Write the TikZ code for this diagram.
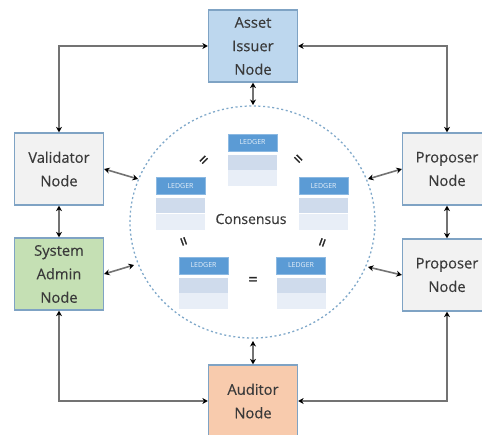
\documentclass[tikz,border=0pt]{standalone}
\usepackage{fontspec}
\setmainfont{Open Sans}
\newfontfamily\nodefont[FakeBold=0.35]{Open Sans}
\newfontfamily\eqfont[FakeBold=1.6]{Open Sans}
\usetikzlibrary{arrows.meta,shapes.geometric}
\definecolor{edgeblue}{HTML}{7FA3C4}
\definecolor{ringc}{HTML}{7FA8CA}
\definecolor{txt}{HTML}{3A3A3A}
\definecolor{ledblue}{HTML}{5B9BD5}
\definecolor{ledmidc}{HTML}{CFDBEC}
\definecolor{ledlowc}{HTML}{E8EEF7}
\definecolor{assetc}{HTML}{BDD7EE}
\definecolor{greyc}{HTML}{F2F2F2}
\definecolor{greenc}{HTML}{C5E0B4}
\definecolor{orangec}{HTML}{F8CBAD}
\tikzset{
  x=1pt,y=-1pt,
  nodebox/.style={draw=edgeblue,line width=1.3pt,minimum width=89pt,minimum height=72pt,inner sep=0pt,align=center,text=txt,font=\nodefont\fontsize{14.7}{23.5}\selectfont,fill=#1},
  link/.style={draw=black!55,line width=1.6pt,{Stealth[length=5.5pt,width=6pt,black]}-{Stealth[length=5.5pt,width=6pt,black]}},
  ledhead/.style={fill=ledblue,draw=ledblue!70!white,line width=.6pt,minimum width=49pt,minimum height=17pt,inner sep=0pt,text=white!85!ledblue,font=\fontsize{7}{8}\selectfont},
  ledmid/.style={fill=ledmidc,minimum width=49pt,minimum height=15pt,inner sep=0pt},
  ledlow/.style={fill=ledlowc,minimum width=49pt,minimum height=16pt,inner sep=0pt},
  eqsign/.style={inner sep=0pt,font=\eqfont\fontsize{16}{16}\selectfont,text=black!85},
}
\newcommand{\ledgerat}[3]{%
  \node[ledhead] (#1h) at (#2,#3) {LEDGER};
  \node[ledmid]  (#1m) at (#2,#3+20) {};
  \node[ledlow]  (#1l) at (#2,#3+36) {};
}
\begin{document}
\begin{tikzpicture}
\useasboundingbox (0,0) rectangle (482,435);
\clip (0,0) rectangle (482,435);
\fill[white] (0,0) rectangle (482,435);

\node[draw=ringc,dash pattern=on 2pt off 2.6pt,line width=1.3pt,ellipse,minimum width=245pt,minimum height=232pt,inner sep=0pt] (ring) at (252.5,222) {};

\node[nodebox=assetc] (asset) at (253,46) {Asset\\Issuer\\Node};
\node[nodebox=greyc] (validator) at (59,169) {Validator\\Node};
\node[nodebox=greenc] (admin) at (59,274) {System\\Admin\\Node};
\node[nodebox=greyc] (propa) at (447,169) {Proposer\\Node};
\node[nodebox=greyc] (propb) at (447,275) {Proposer\\Node};
\node[nodebox=orangec] (auditor) at (253,401) {Auditor\\Node};

\ledgerat{la}{252.5}{142.5}
\ledgerat{lb}{180.5}{186}
\ledgerat{lc}{323.5}{186}
\ledgerat{ld}{203.5}{265.5}
\ledgerat{le}{301}{265.5}

\node[font=\nodefont\fontsize{14}{16}\selectfont,text=txt] (cons) at (251,219) {Consensus};

\node[eqsign,rotate=45] (eqa) at (205,161) {=};
\node[eqsign,rotate=-45] (eqb) at (297,160) {=};
\node[eqsign,rotate=-70] (eqc) at (182,242) {=};
\node[eqsign,rotate=70] (eqd) at (324,243) {=};
\node[eqsign] (eqe) at (253,281) {=};

\coordinate (rv) at (138,179);
\coordinate (ra) at (134,265);
\coordinate (rp) at (368,179);
\coordinate (rq) at (368,267);
\coordinate (rt) at (253,105);
\coordinate (rb) at (253,341);

\draw[link] (validator.north) |- (asset.west);
\draw[link] (propa.north) |- (asset.east);
\draw[link] (validator.south) -- (admin.north);
\draw[link] (propa.south) -- (propb.north);
\draw[link] (admin.south) |- (auditor.west);
\draw[link] (propb.south) |- (auditor.east);
\draw[link] (asset.south) -- (rt);
\draw[link] (auditor.north) -- (rb);
\draw[link] (validator.east) -- (rv);
\draw[link] (admin.east) -- (ra);
\draw[link] (propa.west) -- (rp);
\draw[link] (propb.west) -- (rq);
\end{tikzpicture}
\end{document}
